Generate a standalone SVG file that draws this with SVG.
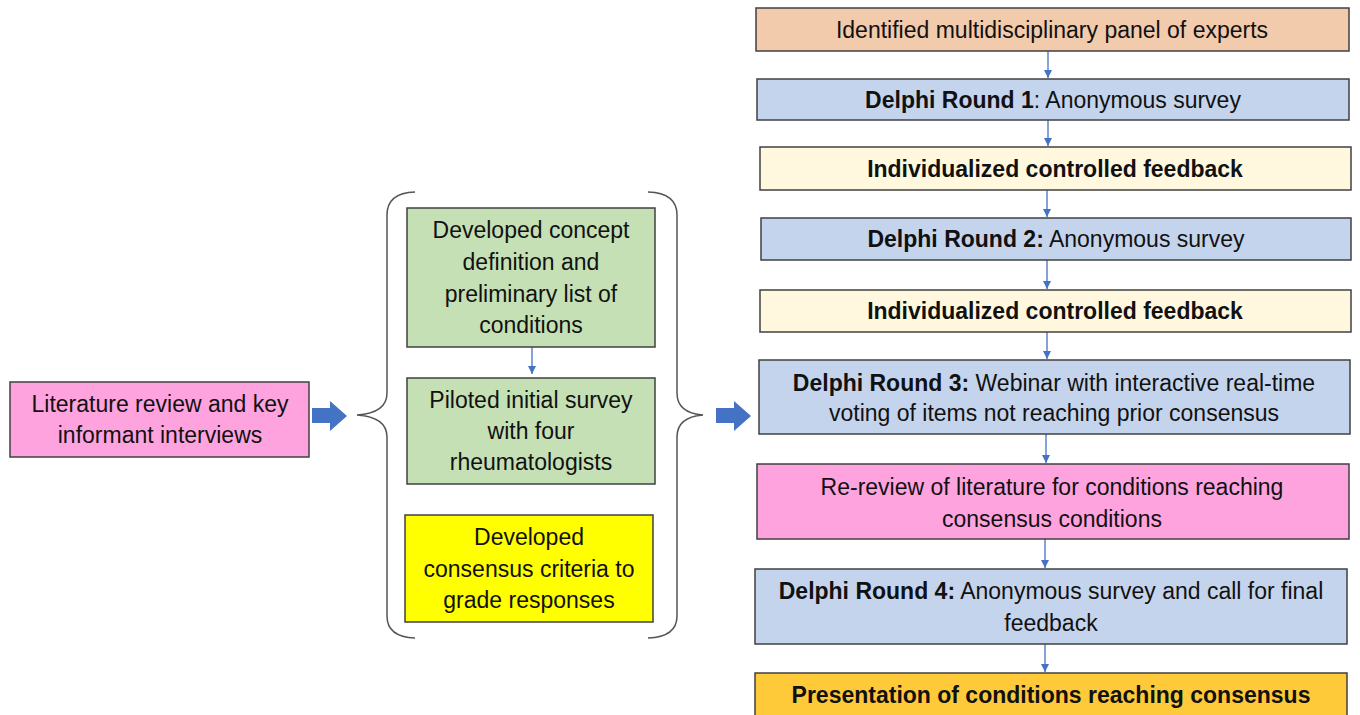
<svg xmlns="http://www.w3.org/2000/svg" width="1360" height="715" viewBox="0 0 1360 715">
<style>
.box{stroke:#404040;stroke-width:1.5}
text{font-family:"Liberation Sans",Arial,sans-serif;font-size:23px;fill:#111;text-anchor:middle}
.b{font-weight:bold}
.con{stroke:#4472C4;stroke-width:1.3;fill:none}
.blk{fill:#4472C4}
.brace{fill:none;stroke:#555;stroke-width:1.5}
</style>
<defs>
<marker id="ah" markerWidth="10" markerHeight="10" refX="8" refY="5" orient="auto" markerUnits="userSpaceOnUse">
<path d="M0,1 L8,5 L0,9 Z" fill="#4472C4"/>
</marker>
</defs>
<rect width="1360" height="715" fill="#fff"/>

<g id="connectors">
<line class="con" x1="1048" y1="51" x2="1048" y2="78" marker-end="url(#ah)"/>
<line class="con" x1="1048" y1="120" x2="1048" y2="146" marker-end="url(#ah)"/>
<line class="con" x1="1047" y1="190" x2="1047" y2="217" marker-end="url(#ah)"/>
<line class="con" x1="1047" y1="260" x2="1047" y2="289" marker-end="url(#ah)"/>
<line class="con" x1="1047" y1="332" x2="1047" y2="359" marker-end="url(#ah)"/>
<line class="con" x1="1046" y1="434" x2="1046" y2="463" marker-end="url(#ah)"/>
<line class="con" x1="1045" y1="539" x2="1045" y2="568" marker-end="url(#ah)"/>
<line class="con" x1="1045" y1="644" x2="1045" y2="672" marker-end="url(#ah)"/>
<line class="con" x1="532" y1="347" x2="532" y2="374" marker-end="url(#ah)"/>
<path class="blk" d="M312,408 L330,408 L330,401 L347,416 L330,431 L330,423 L312,423 Z"/>
<path class="blk" d="M716,408 L734,408 L734,401 L751,416 L734,431 L734,423 L716,423 Z"/>
<path class="brace" d="M415,192 Q387,193 387,215 L387,393 Q387,413 357,415 Q387,417 387,437 L387,616 Q387,637 415,638"/>
<path class="brace" d="M648,192 Q677,193 677,215 L677,393 Q677,413 703,415 Q677,417 677,437 L677,616 Q677,637 648,638"/>
</g>

<g id="lit">
<rect class="box" x="10" y="382" width="299" height="75" fill="#FFA3DF"/>
<text x="160" y="412">Literature review and key</text>
<text x="160" y="443">informant interviews</text>
</g>

<g id="concept">
<rect class="box" x="407" y="208" width="248" height="139" fill="#C5E0B4"/>
<text x="531" y="238">Developed concept</text>
<text x="531" y="270">definition and</text>
<text x="531" y="302">preliminary list of</text>
<text x="531" y="333">conditions</text>
</g>

<g id="pilot">
<rect class="box" x="407" y="378" width="248" height="106" fill="#C5E0B4"/>
<text x="531" y="408">Piloted initial survey</text>
<text x="531" y="439">with four</text>
<text x="531" y="470">rheumatologists</text>
</g>

<g id="criteria">
<rect class="box" x="405" y="515" width="248" height="107" fill="#FFFF00"/>
<text x="529" y="545">Developed</text>
<text x="529" y="577">consensus criteria to</text>
<text x="529" y="608">grade responses</text>
</g>

<g id="panel">
<rect class="box" x="756" y="8" width="593" height="43" fill="#F2CAAC"/>
<text x="1052" y="38">Identified multidisciplinary panel of experts</text>
</g>

<g id="round1">
<rect class="box" x="757" y="79" width="592" height="41" fill="#C5D4ED"/>
<text x="1053" y="108"><tspan class="b">Delphi Round 1</tspan>: Anonymous survey</text>
</g>

<g id="feedback1">
<rect class="box" x="760" y="147" width="591" height="43" fill="#FFF8DE"/>
<text class="b" x="1055" y="177">Individualized controlled feedback</text>
</g>

<g id="round2">
<rect class="box" x="761" y="218" width="590" height="42" fill="#C5D4ED"/>
<text x="1056" y="247"><tspan class="b">Delphi Round 2:</tspan> Anonymous survey</text>
</g>

<g id="feedback2">
<rect class="box" x="760" y="290" width="591" height="42" fill="#FFF8DE"/>
<text class="b" x="1055" y="319">Individualized controlled feedback</text>
</g>

<g id="round3">
<rect class="box" x="759" y="360" width="591" height="74" fill="#C5D4ED"/>
<text x="1054" y="391"><tspan class="b">Delphi Round 3:</tspan> Webinar with interactive real-time</text>
<text x="1054" y="421">voting of items not reaching prior consensus</text>
</g>

<g id="rereview">
<rect class="box" x="757" y="464" width="592" height="75" fill="#FFA3DF"/>
<text x="1052" y="495">Re-review of literature for conditions reaching</text>
<text x="1052" y="527">consensus conditions</text>
</g>

<g id="round4">
<rect class="box" x="755" y="569" width="592" height="75" fill="#C5D4ED"/>
<text x="1051" y="599"><tspan class="b">Delphi Round 4:</tspan> Anonymous survey and call for final</text>
<text x="1051" y="631">feedback</text>
</g>

<g id="presentation">
<rect class="box" x="755" y="673" width="592" height="50" fill="#FFCA3A"/>
<text class="b" x="1051" y="703">Presentation of conditions reaching consensus</text>
</g>
</svg>
